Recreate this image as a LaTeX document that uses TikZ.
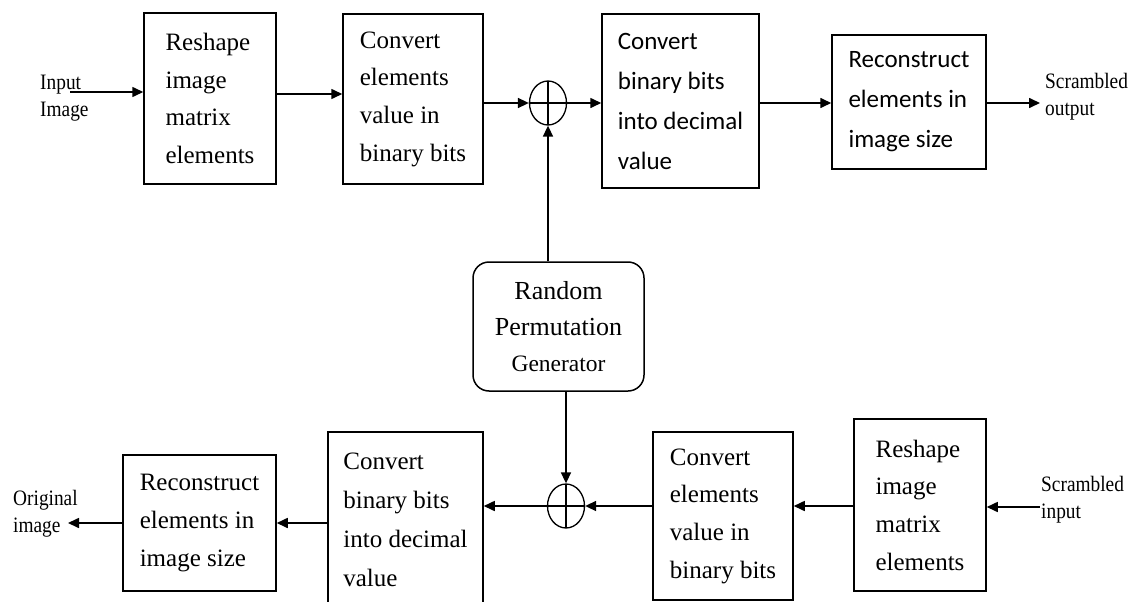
\documentclass[tikz,border=0pt]{standalone}
\usepackage{fontspec}
\setmainfont{Liberation Serif}
\newfontfamily\boxsans{Carlito}
\newfontfamily\lblserif[FakeStretch=0.88]{Liberation Serif}
\usetikzlibrary{arrows.meta,shapes.geometric,calc}
\begin{document}
\begin{tikzpicture}[x=1pt,y=-1pt,
  ln/.style={line width=1.6pt},
  arr/.style={ln,-{Triangle[length=11pt,width=10pt]}},
  blk/.style={draw,line width=1.5pt,inner sep=0pt,align=left,font=\fontsize{25}{37.7}\selectfont},
  sblk/.style={blk,font=\boxsans\fontsize{25}{40}\selectfont},
  xor/.style={draw,ellipse,line width=1.3pt,minimum width=37pt,minimum height=44pt,inner sep=0pt,
    path picture={\draw[line width=1.1pt] (path picture bounding box.north) -- (path picture bounding box.south)
      (path picture bounding box.west) -- (path picture bounding box.east);}},
  lbl/.style={inner sep=0pt,align=left,font=\lblserif\fontsize{22}{27}\selectfont},
  gen/.style={draw,rounded corners=16pt,line width=1.5pt,inner sep=0pt,align=center,font=\fontsize{26}{36}\selectfont}
]
\useasboundingbox (0,0) rectangle (1135,602);
\fill[white] (0,0) rectangle (1135,602);
\clip (0,0) rectangle (1135,602);

% top row
\node[blk,minimum width=132pt,minimum height=171pt] (b1) at (210,98.5) {Reshape\\image\\matrix\\elements};
\node[blk,minimum width=140pt,minimum height=170pt] (b2) at (413,99) {Convert\\elements\\value in\\binary bits};
\node[xor] (c1) at (548,103) {};
\node[sblk,minimum width=157pt,minimum height=174pt] (b3) at (680.5,101) {Convert\\binary bits\\into decimal\\value};
\node[sblk,minimum width=154pt,minimum height=134pt] (b4) at (909,102) {Reconstruct\\elements in\\image size};

% generator
\node[gen,minimum width=171pt,minimum height=129pt] (rpg) at (558.5,326.5) {Random\\Permutation\\{\fontsize{23.5}{36}\selectfont Generator}};

% bottom row
\node[blk,minimum width=153pt,minimum height=136pt] (d1) at (199.5,523) {Reconstruct\\elements in\\image size};
\node[blk,font=\fontsize{25}{39}\selectfont,minimum width=155pt,minimum height=176pt] (d2) at (405.5,520) {Convert\\binary bits\\into decimal\\value};
\node[xor] (c2) at (566,506) {};
\node[blk,minimum width=140pt,minimum height=168pt] (d3) at (723,516) {Convert\\elements\\value in\\binary bits};
\node[blk,minimum width=132pt,minimum height=172pt] (d4) at (920,505) {Reshape\\image\\matrix\\elements};

% labels
\node[lbl,anchor=west] (inlbl) at (40,98.5) {Input\\Image};
\node[lbl,anchor=west] (outlbl) at (1045,97) {Scrambled\\output};
\node[lbl,anchor=west] (origlbl) at (13,514) {Original\\image};
\node[lbl,anchor=west] (sinlbl) at (1041,500) {Scrambled\\input};

\coordinate (inp) at (70,92);
\coordinate (b12) at (0,94);
\coordinate (outp) at (1040,103);
\coordinate (sin) at (1040,507);
\coordinate (orig) at (68,523);

% top connectors
\draw[arr] (inp) -- (inp -| b1.west);
\draw[arr] (b1.east |- b12) -- (b2.west |- b12);
\draw[arr] (b2.east |- c1) -- (c1.west);
\draw[arr] (c1.east) -- (b3.west |- c1);
\draw[arr] (b3.east |- c1) -- (b4.west |- c1);
\draw[arr] (b4.east |- c1) -- (outp);
\draw[arr] (rpg.north -| c1) -- (c1.south);

% bottom connectors
\draw[arr] (rpg.south -| c2) -- (c2.north);
\draw[arr] (sin) -- (sin -| d4.east);
\draw[arr] (d4.west |- c2) -- (d3.east |- c2);
\draw[arr] (d3.west |- c2) -- (c2.east);
\draw[arr] (c2.west) -- (d2.east |- c2);
\draw[arr] (d2.west |- d1) -- (d1.east);
\draw[arr] (d1.west) -- (orig);
\end{tikzpicture}
\end{document}
